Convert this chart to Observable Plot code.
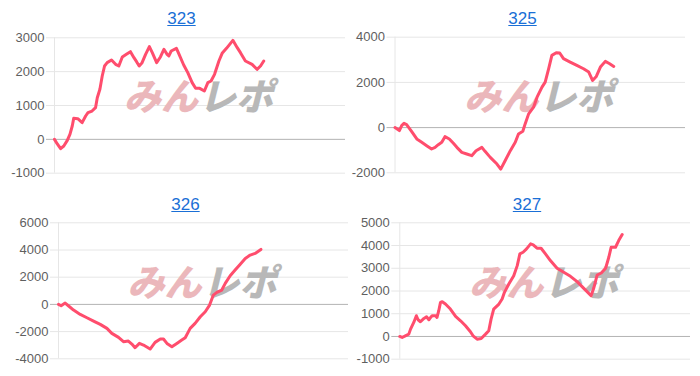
<!DOCTYPE html>
<html><head><meta charset="utf-8">
<script src="https://cdn.jsdelivr.net/npm/d3@7"></script>
<script src="https://cdn.jsdelivr.net/npm/@observablehq/plot@0.6"></script>
<style>
body{margin:0;background:#fff;font-family:"Liberation Sans",Arial,sans-serif}
#wrap{position:relative;width:700px;height:376px;overflow:hidden}
.panel{position:absolute;width:350px;height:188px}
.title{position:absolute;font-size:17px;color:#1a6fd6;text-decoration:underline;transform:translateX(-50%);line-height:1;white-space:nowrap;font-family:"Liberation Sans",Arial,sans-serif}
</style></head><body><div id="wrap"></div>
<script>
// ---- data ----
const titles = ["323", "325", "326", "327"];

const x323 = [0,0.9,2.1,3.2,4.4,5.3,6.1,6.6,8.0,9.5,10.7,11.5,12.9,14.1,14.7,15.6,16.4,17.2,18.1,19.6,21.0,22.1,23.3,24.7,26.1,27.3,28.2,29.1,30.1,31.3,32.6,33.6,35.1,36.4,37.6,38.7,39.3,40.1,41.9,42.7,44.4,45.8,47.3,48.5,49.9,51.5,52.7,53.8,55.0,56.5,57.6,59.1,61.3,62.8,63.9,65.6,67.9,69.6,70.8,71.9];
const y323 = [0,-128,-276,-197,-30,148,394,620,611,493,690,788,837,936,1231,1478,1872,2167,2266,2344,2216,2167,2433,2512,2591,2413,2295,2167,2266,2512,2738,2561,2266,2433,2660,2512,2463,2610,2689,2531,2197,1970,1675,1507,1507,1428,1675,1724,1921,2315,2541,2689,2925,2709,2561,2315,2216,2069,2167,2315];

const x325 = [0,1.5,2.3,3.1,4.0,5.7,7.5,9.2,10.9,12.6,13.8,14.9,16.1,17.2,18.7,20.1,21.3,23.0,24.7,26.4,27.9,29.9,31.0,32.8,35.1,36.4,37.9,39.7,41.4,42.5,44.0,44.8,46.0,47.7,48.9,50.6,51.7,52.9,54.0,55.5,56.7,58.0,60.3,62.6,64.9,66.7,68.0,69.3,70.7,72.4,73.9,75.3];
const y325 = [0,-133,89,192,133,-163,-503,-651,-799,-947,-873,-755,-651,-400,-503,-696,-873,-1095,-1169,-1243,-1021,-873,-1051,-1317,-1613,-1835,-1465,-1021,-651,-281,-163,163,607,903,1347,1791,2013,2605,3197,3315,3300,3049,2901,2753,2605,2457,2087,2264,2679,2930,2827,2708];

const x326 = [0,0.9,2.3,3.4,5.2,7.5,9.8,12.1,14.4,16.7,18.4,20.7,22.4,24.1,25.3,26.4,27.9,29.3,31.6,33.3,35.1,36.2,37.4,39.1,40.8,42.5,43.7,45.4,47.1,48.9,50.6,52.1,53.4,54.6,56.3,57.5,59.2,60.9,62.6,64.4,66.1,67.8,69.8];
const y326 = [0,-98,98,-98,-417,-735,-980,-1225,-1470,-1764,-2132,-2426,-2744,-2695,-2916,-3185,-2867,-2989,-3283,-2793,-2548,-2548,-2867,-3112,-2867,-2622,-2450,-1764,-1397,-907,-539,-49,686,882,1054,1544,2107,2524,2940,3381,3626,3749,4043];

const x327 = [0,0.8,1.9,3.1,3.7,4.8,5.7,6.3,7.1,8.3,9.2,10.0,10.6,11.1,12.3,12.8,13.4,14.0,14.6,15.7,17.4,19.2,20.9,22.6,24.3,25.2,26.6,28.0,29.5,30.6,31.4,32.3,34.1,35.2,36.0,37.5,39.2,40.4,41.3,42.4,43.6,45.0,45.9,47.2,48.6,50.1,51.8,54.1,56.4,58.7,61.0,63.3,65.8,66.7,67.9,69.3,70.8,71.9,72.7,74.2,75.3,76.5];
const y327 = [0,-44,29,103,323,617,911,735,647,794,867,735,838,911,911,838,1132,1499,1529,1426,1205,882,691,470,206,29,-118,-88,103,250,764,1205,1426,1646,1940,2308,2675,3116,3631,3704,3851,4072,4028,3881,3881,3631,3337,2999,2822,2646,2411,2117,1793,2117,2705,2793,2999,3484,3925,3925,4219,4484];

const ticks323 = [-1000, 0, 1000, 2000, 3000];
const ticks325 = [-2000, 0, 2000, 4000];
const ticks326 = [-4000, -2000, 0, 2000, 4000, 6000];
const ticks327 = [-1000, 0, 1000, 2000, 3000, 4000, 5000];

// ---- layout ----
const panels = [
  {title: titles[0], xs: x323, ys: y323, ticks: ticks323, left: 0,   top: 0,   mL: 54,   mR: 5,  mT: 37.3, mB: 15.3, tx: 181.5, ty: 10},
  {title: titles[1], xs: x325, ys: y325, ticks: ticks325, left: 350, top: 0,   mL: 44.5, mR: 15, mT: 36.7, mB: 15.7, tx: 522.5, ty: 10},
  {title: titles[2], xs: x326, ys: y326, ticks: ticks326, left: 0,   top: 188, mL: 58,   mR: 2,  mT: 34.3, mB: 17.7, tx: 185.5, ty: 195.5},
  {title: titles[3], xs: x327, ys: y327, ticks: ticks327, left: 350, top: 188, mL: 49.3, mR: 10, mT: 34.3, mB: 17.3, tx: 527,   ty: 195.5}
];

const wrap = document.getElementById("wrap");
for (const p of panels) {
  const data = p.xs.map((x, i) => ({x, y: p.ys[i]}));
  const ext = d3.extent(p.ticks);
  const wm = {frameAnchor: "middle", dy: -7, fontSize: 37, fontWeight: 900, fontStyle: "italic",
              fontFamily: "'Noto Sans CJK JP', sans-serif", lineAnchor: "middle"};
  const chart = Plot.plot({
    width: 350, height: 188,
    marginLeft: p.mL, marginRight: p.mR, marginTop: p.mT, marginBottom: p.mB,
    x: {domain: [0, 100], axis: null},
    y: {domain: ext, axis: null},
    style: {fontFamily: "'Liberation Sans', Arial, sans-serif", fontSize: "13px", color: "#5f5f5f", background: "transparent", overflow: "visible"},
    marks: [
      Plot.ruleY(p.ticks.filter(t => t !== 0), {stroke: "#e6e6e6", insetLeft: -8}),
      Plot.ruleY([0], {stroke: "#b3b3b3", insetLeft: -8}),
      Plot.ruleX([0], {stroke: "#e6e6e6"}),
      Plot.text(["みん"], {...wm, textAnchor: "end", dx: -2, fill: "#ebb7bb"}),
      Plot.text(["レポ"], {...wm, textAnchor: "start", dx: -1, fill: "#b8b8b8"}),
      Plot.line(data, {x: "x", y: "y", stroke: "#ff4d6d", strokeWidth: 3, strokeLinejoin: "round", strokeLinecap: "round"}),
      Plot.axisY({ticks: p.ticks, tickSize: 0, tickPadding: 10, tickFormat: d => String(d), label: null})
    ]
  });
  const div = document.createElement("div");
  div.className = "panel";
  div.style.left = p.left + "px";
  div.style.top = p.top + "px";
  div.appendChild(chart);
  wrap.appendChild(div);
  const t = document.createElement("a");
  t.className = "title";
  t.href = "#";
  t.textContent = p.title;
  t.style.left = p.tx + "px";
  t.style.top = p.ty + "px";
  wrap.appendChild(t);
}
</script>
</body></html>
